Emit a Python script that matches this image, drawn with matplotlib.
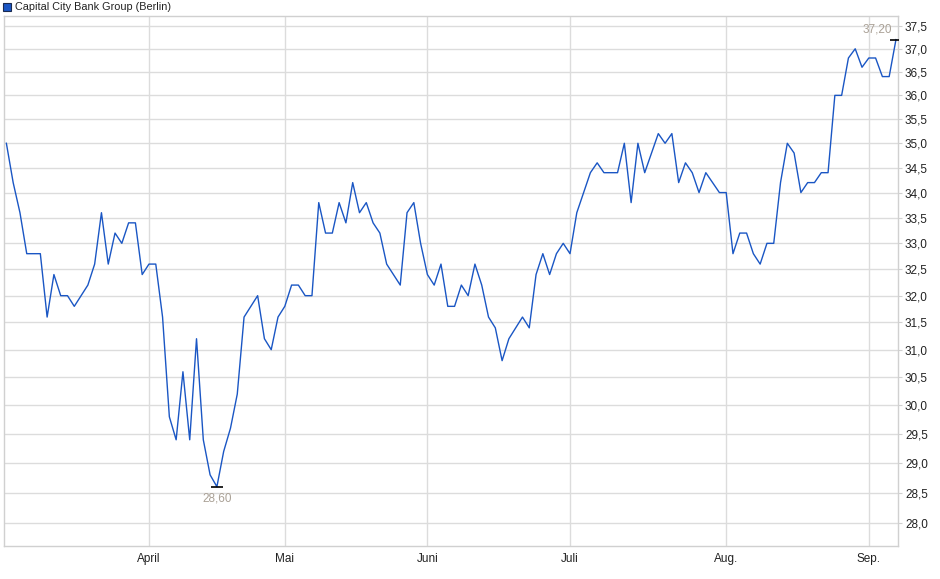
import matplotlib
matplotlib.use("Agg")
from matplotlib import pyplot as plt
from matplotlib.ticker import FixedLocator, FixedFormatter, NullLocator
from matplotlib.patches import Rectangle

title = "Capital City Bank Group (Berlin)"

# Schlusskurse (Handelstage, Mitte März bis Anfang September)
prices = [
    35.0, 34.2, 33.6, 32.8, 32.8, 32.8, 31.6, 32.4, 32.0, 32.0,
    31.8, 32.0, 32.2, 32.6, 33.6, 32.6, 33.2, 33.0, 33.4, 33.4,
    32.4, 32.6, 32.6, 31.6, 29.8, 29.4, 30.6, 29.4, 31.2, 29.4,
    28.8, 28.6, 29.2, 29.6, 30.2, 31.6, 31.8, 32.0, 31.2, 31.0,
    31.6, 31.8, 32.2, 32.2, 32.0, 32.0, 33.8, 33.2, 33.2, 33.8,
    33.4, 34.2, 33.6, 33.8, 33.4, 33.2, 32.6, 32.4, 32.2, 33.6,
    33.8, 33.0, 32.4, 32.2, 32.6, 31.8, 31.8, 32.2, 32.0, 32.6,
    32.2, 31.6, 31.4, 30.8, 31.2, 31.4, 31.6, 31.4, 32.4, 32.8,
    32.4, 32.8, 33.0, 32.8, 33.6, 34.0, 34.4, 34.6, 34.4, 34.4,
    34.4, 35.0, 33.8, 35.0, 34.4, 34.8, 35.2, 35.0, 35.2, 34.2,
    34.6, 34.4, 34.0, 34.4, 34.2, 34.0, 34.0, 32.8, 33.2, 33.2,
    32.8, 32.6, 33.0, 33.0, 34.2, 35.0, 34.8, 34.0, 34.2, 34.2,
    34.4, 34.4, 36.0, 36.0, 36.8, 37.0, 36.6, 36.8, 36.8, 36.4,
    36.4, 37.2,
]
month_labels = ["April", "Mai", "Juni", "Juli", "Aug.", "Sep."]
month_index = [21, 41, 62, 83, 106, 127]
y_ticks = [28.0, 28.5, 29.0, 29.5, 30.0, 30.5, 31.0, 31.5, 32.0, 32.5,
           33.0, 33.5, 34.0, 34.5, 35.0, 35.5, 36.0, 36.5, 37.0, 37.5]

plt.rcParams['font.family'] = ['Liberation Sans', 'DejaVu Sans']

fig = plt.figure(figsize=(9.4, 5.79), dpi=100)
ax = fig.add_axes([4 / 940, 1 - 546 / 579, 894 / 940, 530 / 579])

xs = list(range(len(prices)))
line_color = "#1a56c4"
ax.plot(xs, prices, color=line_color, lw=1.0, zorder=3)

ax.set_yscale("log")
ax.set_ylim(27.62, 37.72)
ax.set_xlim(-0.35, 131.3)

ax.yaxis.set_major_locator(FixedLocator(y_ticks))
ax.yaxis.set_major_formatter(FixedFormatter([f"{v:.1f}".replace(".", ",") for v in y_ticks]))
ax.yaxis.set_minor_locator(NullLocator())
ax.yaxis.tick_right()
ax.tick_params(axis="y", length=3, color="#d0d0d0", labelsize=8.5, pad=2, labelcolor="#222222")

ax.xaxis.set_major_locator(FixedLocator(month_index))
ax.xaxis.set_major_formatter(FixedFormatter(month_labels))
ax.xaxis.set_minor_locator(NullLocator())
ax.tick_params(axis="x", length=0, labelsize=8.5, pad=5, labelcolor="#222222")

ax.grid(True, color="#dcdcdc", lw=1.0)
ax.set_axisbelow(True)
for s in ax.spines.values():
    s.set_color("#d0d0d0")
    s.set_linewidth(1.0)

# Tief und Hoch markieren
lo = prices.index(min(prices))
hi = len(prices) - 1
ax.plot([lo], [prices[lo]], marker="_", ms=9, mew=1.2, color="black", zorder=4)
ax.plot([hi], [prices[hi]], marker="_", ms=9, mew=1.2, color="black", zorder=4)
note_color = "#aaa196"
ax.annotate(f"{prices[lo]:.2f}".replace(".", ","), (lo, prices[lo]),
            xytext=(0, -4), textcoords="offset points", ha="center", va="top",
            fontsize=8.5, color=note_color)
ax.annotate(f"{prices[hi]:.2f}".replace(".", ","), (hi, prices[hi]),
            xytext=(-3, 3), textcoords="offset points", ha="right", va="bottom",
            fontsize=8.5, color=note_color)

# Legende oben links
fig.patches.append(Rectangle((3 / 940, 1 - 11 / 579), 8 / 940, 8 / 579,
                             transform=fig.transFigure, facecolor=line_color,
                             edgecolor="#1a2a50", lw=0.8))
fig.text(15 / 940, 1 - 7 / 579, title, fontsize=7.8, va="center", ha="left",
         color="#222222")

fig.savefig("out.png", dpi=100)
